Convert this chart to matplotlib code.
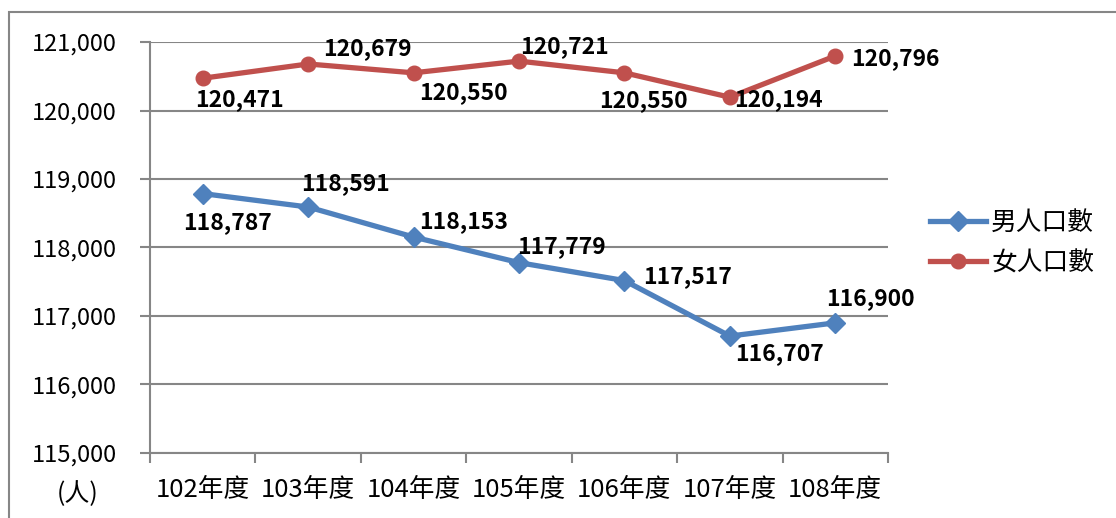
import matplotlib.pyplot as plt
from matplotlib.patches import Rectangle

plt.rcParams['font.family'] = ['Noto Sans CJK TC', 'DejaVu Sans']

years = ["102年度", "103年度", "104年度", "105年度", "106年度", "107年度", "108年度"]
male = [118787, 118591, 118153, 117779, 117517, 116707, 116900]
female = [120471, 120679, 120550, 120721, 120550, 120194, 120796]
yticks = [115000, 116000, 117000, 118000, 119000, 120000, 121000]

# label offsets in pixels (dx, dy), as placed in the original
male_off = [(25, -29), (37, 23), (50, 15), (42, 16), (63, 4), (50, -17), (35, 24)]
female_off = [(37, -21), (59, 15), (50, -20), (45, 15), (19, -28), (49, -2), (60, -3)]

blue = "#4F81BD"
red = "#C0504D"
grid = "#868686"

fig = plt.figure(figsize=(11.16, 5.18), dpi=100)
ax = fig.add_axes([150 / 1116, 65 / 518, 738 / 1116, 411 / 518])

x = list(range(len(years)))
ax.plot(x, male, color=blue, lw=3.8, marker="D", ms=10.5, label="男人口數")
ax.plot(x, female, color=red, lw=3.8, marker="o", ms=10.5, label="女人口數")

for xi, v, (dx, dy) in zip(x, male, male_off):
    ax.annotate(f"{v:,}", (xi, v), xytext=(dx * 0.72, dy * 0.72), textcoords="offset points",
                ha="center", va="center", fontsize=16.5, fontweight="bold")
for xi, v, (dx, dy) in zip(x, female, female_off):
    ax.annotate(f"{v:,}", (xi, v), xytext=(dx * 0.72, dy * 0.72), textcoords="offset points",
                ha="center", va="center", fontsize=16.5, fontweight="bold")

ax.set_xlim(-0.5, 6.5)
ax.set_ylim(115000, 121000)
ax.set_yticks(yticks)
ax.set_yticklabels([f"{t:,}" for t in yticks], fontsize=17)
ax.set_xticks(x)
ax.set_xticklabels(years, fontsize=18.5)
ax.set_xticks([i - 0.5 for i in range(len(years) + 1)], minor=True)
ax.tick_params(axis="x", which="major", length=0, pad=17)
ax.tick_params(axis="x", which="minor", length=7, color=grid, width=1.5)
ax.tick_params(axis="y", length=7, color=grid, width=1.5, pad=17)
ax.grid(axis="y", color=grid, lw=1.5)
ax.set_axisbelow(True)
for s in ["top", "right"]:
    ax.spines[s].set_visible(False)
for s in ["left", "bottom"]:
    ax.spines[s].set_color(grid)
    ax.spines[s].set_linewidth(1.5)

fig.text(78 / 1116, 1 - 494 / 518, "(人)", fontsize=18, ha="center", va="center")

ax.legend(loc="center left", bbox_to_anchor=(1.025, 0.51), frameon=False, fontsize=18.5,
          handlelength=2.2, labelspacing=0.55, handletextpad=0.2)

fig.patches.append(Rectangle((9 / 1116, -0.1), 1.2, 1 - 12 / 518 + 0.1, transform=fig.transFigure,
                             fill=False, edgecolor=grid, lw=1.5))

fig.savefig("out.png", dpi=100)
